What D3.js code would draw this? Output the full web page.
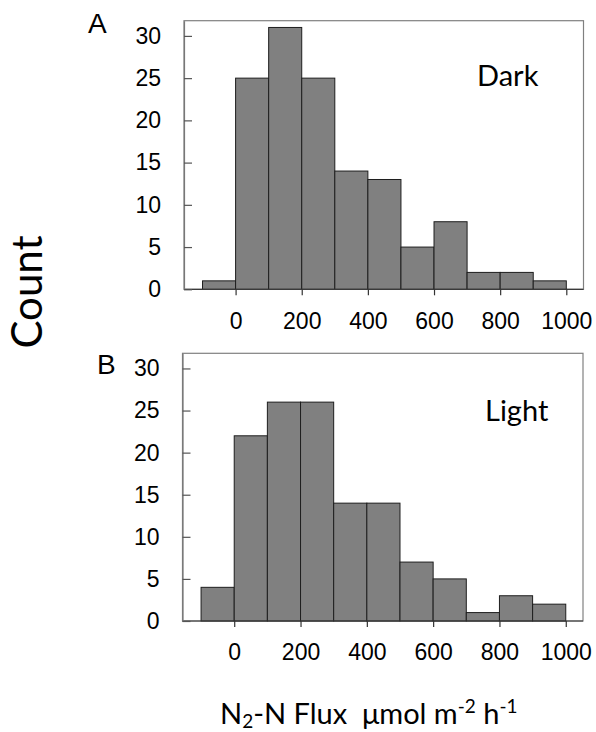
<!DOCTYPE html>
<html>
<head>
<meta charset="utf-8">
<script src="https://cdn.jsdelivr.net/npm/d3@7"></script>
<style>
  html, body { margin: 0; padding: 0; background: #fff; }
  svg { display: block; }
</style>
</head>
<body>
<svg id="chart" width="596" height="732"></svg>
<script>
// ---- data ----
const binStarts = [-100, 0, 100, 200, 300, 400, 500, 600, 700, 800, 900];
const binWidth = 100;
const darkCounts  = [1, 25, 31, 25, 14, 13, 5, 8, 2, 2, 1];
const lightCounts = [4, 22, 26, 26, 14, 14, 7, 5, 1, 3, 2];
const xTicks = [0, 200, 400, 600, 800, 1000];
const yTicks = [0, 5, 10, 15, 20, 25, 30];
const panelLetters = ["A", "B"];
const panelNames = ["Dark", "Light"];

const svg = d3.select("#chart");

const panels = [
  { letter: panelLetters[0], name: panelNames[0], counts: darkCounts,
    left: 184, right: 583.5, top: 20.7, bottom: 289.3,
    letterX: 88, letterY: 33, nameX: 477, nameY: 86 },
  { letter: panelLetters[1], name: panelNames[1], counts: lightCounts,
    left: 182.5, right: 583, top: 353.3, bottom: 621,
    letterX: 97, letterY: 374, nameX: 485, nameY: 421 }
];

panels.forEach(p => {
  const x = d3.scaleLinear().domain([-156, 1052]).range([p.left, p.right]);
  const y = d3.scaleLinear().domain([0, 31.8]).range([p.bottom, p.top]);
  const g = svg.append("g");

  // frame
  g.append("rect")
    .attr("x", p.left).attr("y", p.top)
    .attr("width", p.right - p.left).attr("height", p.bottom - p.top)
    .attr("fill", "none").attr("stroke", "#808080").attr("stroke-width", 1.2);

  // bars
  const data = binStarts.map((s, i) => ({ x0: s, x1: s + binWidth, c: p.counts[i] }));
  g.selectAll("rect.bar").data(data).enter().append("rect")
    .attr("class", "bar")
    .attr("x", d => x(d.x0))
    .attr("y", d => y(d.c))
    .attr("width", d => x(d.x1) - x(d.x0))
    .attr("height", d => y(0) - y(d.c))
    .attr("fill", "#808080")
    .attr("stroke", "#1e1e1e")
    .attr("stroke-width", 1);

  // bottom axis line
  g.append("line")
    .attr("x1", p.left).attr("x2", p.right)
    .attr("y1", p.bottom).attr("y2", p.bottom)
    .attr("stroke", "#3a3a3a").attr("stroke-width", 1.2);

  // x axis
  const xAxis = d3.axisBottom(x).tickValues(xTicks).tickFormat(d3.format("d"))
    .tickSize(6).tickPadding(17).tickSizeOuter(0);
  const xg = g.append("g").attr("transform", `translate(0,${p.bottom})`).call(xAxis);
  xg.select(".domain").remove();
  xg.selectAll(".tick line").attr("stroke", "#333").attr("stroke-width", 1.2);
  xg.selectAll(".tick text")
    .attr("font-family", "'Liberation Sans', Arial, sans-serif")
    .attr("font-size", 23).attr("fill", "#000");

  // y axis (ticks inside)
  const yAxis = d3.axisLeft(y).tickValues(yTicks).tickFormat(d3.format("d"))
    .tickSize(-8).tickPadding(23).tickSizeOuter(0);
  const yg = g.append("g").attr("transform", `translate(${p.left},0)`).call(yAxis);
  yg.select(".domain").attr("stroke", "#777").attr("stroke-width", 1.2);
  yg.selectAll(".tick line").attr("stroke", "#555").attr("stroke-width", 1.2);
  yg.selectAll(".tick text")
    .attr("font-family", "'Liberation Sans', Arial, sans-serif")
    .attr("font-size", 23).attr("fill", "#000");

  // panel letter
  svg.append("text")
    .attr("x", p.letterX).attr("y", p.letterY)
    .attr("font-family", "'Liberation Sans', Arial, sans-serif")
    .attr("font-size", 28).attr("fill", "#000")
    .text(p.letter);

  // panel name
  svg.append("text")
    .attr("x", p.nameX).attr("y", p.nameY)
    .attr("font-family", "Lato, 'Open Sans', sans-serif")
    .attr("font-size", 29).attr("fill", "#000")
    .text(p.name);
});

// y axis title
svg.append("text")
  .attr("transform", "translate(42,292) rotate(-90)")
  .attr("text-anchor", "middle")
  .attr("font-family", "Lato, 'Open Sans', sans-serif")
  .attr("font-size", 42).attr("fill", "#000")
  .text("Count");

// x axis title
const t = svg.append("text")
  .attr("x", 220).attr("y", 724)
  .attr("font-family", "Lato, 'Open Sans', sans-serif")
  .attr("font-size", 29).attr("fill", "#000")
  .style("white-space", "pre");
t.append("tspan").text("N");
t.append("tspan").attr("font-size", 19).attr("dy", 4).text("2");
t.append("tspan").attr("dy", -4).text("-N Flux  \u03BCmol m");
t.append("tspan").attr("font-size", 19).attr("dy", -11).text("-2");
t.append("tspan").attr("dy", 11).text(" h");
t.append("tspan").attr("font-size", 19).attr("dy", -11).text("-1");
</script>
</body>
</html>
